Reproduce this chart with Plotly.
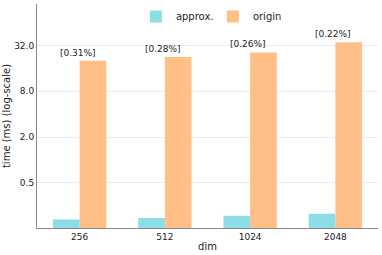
import math
import plotly.graph_objects as go

dims = ["256", "512", "1024", "2048"]
approx_ms = [0.166, 0.173, 0.185, 0.197]
origin_ms = [20.2, 22.5, 25.9, 35.3]
ratio_labels = ["[0.31%]", "[0.28%]", "[0.26%]", "[0.22%]"]
ytick_vals = [0.5, 2, 8, 32]
ytick_text = ["0.5", "2.0", "8.0", "32.0"]

FONT = "DejaVu Sans"

fig = go.Figure()
fig.add_trace(go.Bar(x=dims, y=approx_ms, name="approx.",
                     marker=dict(color="#8BDEE7", line=dict(width=0))))
fig.add_trace(go.Bar(x=dims, y=origin_ms, name="origin",
                     marker=dict(color="#FFBF86", line=dict(width=0))))

for i, (v, t) in enumerate(zip(origin_ms, ratio_labels)):
    fig.add_annotation(x=i, y=math.log10(v), xref="x", yref="y", text=t,
                       showarrow=False, yanchor="bottom", xshift=-2, yshift=1,
                       font=dict(family=FONT, size=9, color="#222"))

fig.update_layout(
    width=382, height=255,
    margin=dict(l=37, r=4, t=3, b=27),
    plot_bgcolor="white", paper_bgcolor="white",
    barmode="group", bargap=0.375, bargroupgap=0,
    font=dict(family=FONT, size=9, color="#222"),
    showlegend=True,
    legend=dict(orientation="h", x=0.29, xanchor="left", y=0.94, yanchor="middle",
                font=dict(family=FONT, size=10, color="#222"),
                bgcolor="rgba(0,0,0,0)", entrywidth=32),
    xaxis=dict(type="category", range=[-0.5, 3.5], showline=True, linecolor="#888",
               linewidth=1, ticks="", showgrid=False, automargin=False,
               title=dict(text="dim", font=dict(family=FONT, size=10), standoff=2),
               tickfont=dict(family=FONT, size=9)),
    yaxis=dict(type="log", range=[-0.893, 2.05], showline=True, linecolor="#888",
               linewidth=1, ticks="", tickvals=ytick_vals, ticktext=ytick_text,
               showgrid=True, gridcolor="#ececec", gridwidth=1, zeroline=False,
               automargin=False,
               title=dict(text="time (ms) (log-scale)", font=dict(family=FONT, size=10),
                          standoff=1),
               tickfont=dict(family=FONT, size=9)),
)

fig.write_html("out.html", config={"displayModeBar": False},
               post_script="document.body.style.margin='0';")
